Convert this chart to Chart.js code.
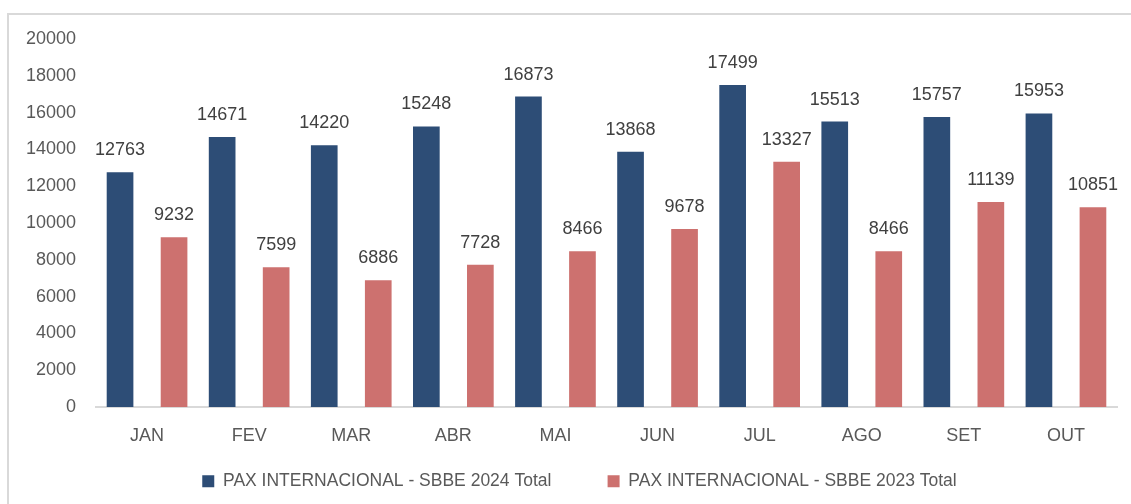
<!DOCTYPE html>
<html>
<head>
<meta charset="utf-8">
<script src="https://cdn.jsdelivr.net/npm/chart.js@4/dist/chart.umd.min.js"></script>
<style>
    body { margin: 0; background: #fff; }
    #frame {
        position: absolute; left: 7px; top: 13px;
        width: 1140px; height: 500px;
        border: 2px solid #d9d9d9;
    }
    #wrap { position: absolute; left: 0; top: 0; width: 1131px; height: 504px; }
</style>
</head>
<body>
<div id="frame"></div>
<div id="wrap"><canvas id="paxChart" width="1131" height="504"></canvas></div>
<script>
// monthly values
const months = ["JAN", "FEV", "MAR", "ABR", "MAI", "JUN", "JUL", "AGO", "SET", "OUT"];
const pax2024 = [12763, 14671, 14220, 15248, 16873, 13868, 17499, 15513, 15757, 15953];
const pax2023 = [9232, 7599, 6886, 7728, 8466, 9678, 13327, 8466, 11139, 10851];
const seriesNames = ["PAX INTERNACIONAL - SBBE 2024 Total", "PAX INTERNACIONAL - SBBE 2023 Total"];

const fontFamily = "'Liberation Sans', Arial, sans-serif";

// value labels above each bar (no datalabels plugin here)
const barLabels = {
    id: "barLabels",
    afterDatasetsDraw(chart) {
        const ctx = chart.ctx;
        ctx.save();
        ctx.font = "18px " + fontFamily;
        ctx.fillStyle = "#404040";
        ctx.textAlign = "center";
        ctx.textBaseline = "middle";
        chart.data.datasets.forEach((ds, i) => {
            chart.getDatasetMeta(i).data.forEach((bar, j) => {
                ctx.fillText(ds.data[j], bar.x, bar.y - 22);
            });
        });
        ctx.restore();
    }
};

// nudge the legend a bit to the right, like the excel original
const legendShift = {
    id: "legendShift",
    afterLayout(chart) {
        chart.legend.left += 16;
        chart.legend.right += 16;
    }
};

const ctx = document.getElementById("paxChart").getContext("2d");
new Chart(ctx, {
    type: "bar",
    data: {
        labels: months,
        datasets: [
            {
                label: seriesNames[0],
                data: pax2024,
                backgroundColor: "#2d4d76"
            },
            {
                label: seriesNames[1],
                data: pax2023,
                backgroundColor: "#cd716f"
            }
        ]
    },
    options: {
        responsive: false,
        animation: false,
        datasets: {
            bar: { categoryPercentage: 1.058, barPercentage: 0.494 }
        },
        layout: {
            padding: { left: 10, top: 39, right: 14, bottom: 4 }
        },
        scales: {
            x: {
                grid: { display: false },
                border: { display: true, color: "#d9d9d9", width: 2 },
                ticks: { color: "#595959", font: { family: fontFamily, size: 18 }, padding: 10 },
                afterFit(scale) { scale.height = 38.5; }
            },
            y: {
                min: 0,
                max: 20000,
                grid: { display: false, drawTicks: false },
                border: { display: false },
                ticks: {
                    stepSize: 2000,
                    color: "#595959",
                    font: { family: fontFamily, size: 18 },
                    padding: 20,
                    callback: value => String(value) // no thousands separator
                },
                afterFit(scale) { scale.width = 86; }
            }
        },
        plugins: {
            legend: {
                position: "bottom",
                labels: {
                    color: "#595959",
                    font: { family: fontFamily, size: 17.5 },
                    boxWidth: 12,
                    boxHeight: 12,
                    padding: 27,
                    generateLabels(chart) {
                        const items = Chart.defaults.plugins.legend.labels.generateLabels(chart);
                        items[0].text += "      "; // wider gap between the two entries
                        return items;
                    }
                }
            },
            tooltip: { enabled: false }
        }
    },
    plugins: [barLabels, legendShift]
});
</script>
</body>
</html>
